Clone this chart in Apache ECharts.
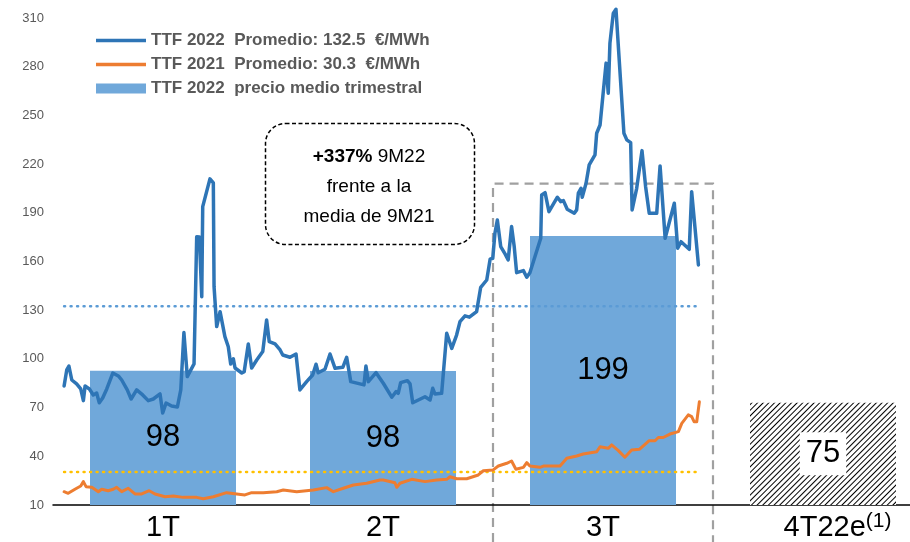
<!DOCTYPE html>
<html>
	<head>
		<meta charset="utf-8">
		<title></title>
		<script src="https://cdn.jsdelivr.net/npm/echarts@6/dist/echarts.min.js"></script>
	</head>
	<body style="margin:0">
		<div id="main" style="width: 910px; height: 542px;"></div>
		<script type="text/javascript">
			// 数据
			var quarters = ['1T', '2T', '3T', '4T22e'];
			var barValues = [92.7, 92.6, 175.7, '-'];
			var barLabels = ['98', '98', '199', ''];
			var estValues = ['-', '-', '-', 73];
			var estLabels = ['', '', '', '75'];
			var avg2022 = 132.5;
			var avg2021 = 30.3;
			var yTicks = { min: 10, max: 310, interval: 30 };

			// TTF 2022, [dia, €/MWh]
			var ttf2022 = [
				[4.6, 83.3], [5.7, 93.2], [6.6, 95.6], [7.8, 87.0], [9.8, 84.6], [11.5, 81.5], [12.6, 74.3], [13.3, 83.3],
				[15.1, 81.5], [16.7, 77.8], [18.1, 79.0], [19.2, 73.0], [20.6, 75.9], [22.3, 81.5], [24.8, 91.3], [27.1, 89.5],
				[28.5, 87.0], [30.8, 80.9], [32.4, 75.3], [34.7, 80.9], [37.2, 77.8], [39.5, 74.3], [41.6, 75.3], [44.4, 78.4],
				[45.5, 66.7], [46.9, 72.8], [49.2, 71.0], [51.6, 70.4], [53.0, 80.9], [54.3, 116.2], [55.7, 89.1], [58.5, 96.9],
				[59.6, 175.3], [60.7, 175.1], [61.7, 138.3], [62.1, 193.8], [65.1, 210.9], [66.5, 208.4], [66.8, 144.5], [67.9, 119.9],
				[69.3, 129.1], [71.3, 113.7], [72.7, 107.5], [73.7, 96.9], [74.8, 100.0], [75.5, 94.4], [78.3, 91.3], [79.3, 92.1],
				[81.0, 109.2], [82.4, 94.4], [84.5, 99.3], [87.0, 104.5], [88.6, 124.0], [89.7, 110.6], [92.1, 109.2], [94.2, 105.5],
				[95.3, 102.4], [98.3, 101.0], [100.8, 103.0], [102.4, 80.9], [105.2, 86.0], [107.7, 90.1], [109.1, 96.7], [110.0, 91.5],
				[112.8, 93.6], [114.9, 103.0], [117.0, 94.2], [120.2, 94.8], [121.8, 101.0], [123.5, 86.0], [127.3, 84.6], [129.0, 84.0],
				[129.8, 95.6], [130.8, 86.0], [134.0, 91.5], [137.0, 85.0], [140.5, 76.4], [142.3, 79.8], [143.2, 78.8], [144.2, 85.4],
				[147.0, 86.6], [148.1, 84.6], [149.2, 73.0], [154.3, 76.7], [156.4, 74.7], [157.5, 81.9], [158.4, 78.4], [161.2, 78.8],
				[163.3, 115.8], [165.4, 106.5], [167.4, 114.7], [168.8, 122.9], [170.9, 126.5], [172.7, 125.7], [175.7, 129.1], [177.4, 144.1],
				[179.9, 148.6], [181.3, 161.4], [182.4, 162.0], [183.3, 177.4], [184.3, 185.6], [185.7, 169.2], [187.5, 164.7], [188.8, 161.0],
				[190.2, 181.5], [191.3, 169.2], [192.3, 153.1], [195.1, 154.4], [196.5, 150.3], [197.8, 153.1], [202.3, 174.3], [202.7, 201.0],
				[204.1, 202.4], [205.7, 190.7], [209.2, 199.6], [210.6, 196.9], [211.7, 197.5], [213.3, 192.2], [216.2, 189.7], [217.2, 191.8],
				[217.9, 202.1], [219.0, 205.1], [219.5, 199.6], [221.1, 208.2], [222.4, 219.5], [224.8, 225.7], [225.5, 239.0], [226.9, 244.1],
				[229.4, 282.2], [230.3, 263.7], [231.0, 294.5], [232.4, 313.0], [233.5, 315.4], [236.8, 239.0], [238.0, 234.9], [239.6, 233.2],
				[240.2, 191.8], [242.1, 205.1], [244.3, 228.3], [245.8, 206.1], [247.3, 189.7], [250.4, 189.7], [251.8, 218.9], [253.9, 174.3],
				[257.7, 195.9], [259.1, 168.2], [260.5, 172.2], [263.9, 167.5], [264.9, 203.0], [267.7, 157.9]
			];

			// TTF 2021, [dia, €/MWh]
			var ttf2021 = [
				[4.6, 18.2], [6.3, 17.2], [9.1, 19.7], [11.5, 21.7], [12.6, 24.4], [13.7, 21.3], [16.1, 20.9], [18.8, 18.2],
				[20.2, 19.7], [22.9, 18.8], [25.0, 19.7], [26.4, 20.9], [28.5, 18.2], [31.2, 20.3], [34.0, 16.8], [36.8, 16.8],
				[39.9, 18.8], [42.3, 16.8], [46.5, 15.1], [49.9, 15.5], [54.0, 14.7], [59.6, 14.7], [62.3, 13.9], [66.5, 15.1],
				[72.0, 17.6], [76.2, 16.8], [79.6, 16.2], [82.4, 17.6], [87.2, 17.6], [92.8, 18.2], [95.5, 19.2], [101.1, 18.2],
				[108.0, 19.2], [113.5, 20.7], [116.3, 18.2], [120.4, 20.3], [124.6, 22.3], [130.1, 23.4], [135.6, 25.4], [137.0, 25.4],
				[141.8, 23.7], [142.6, 20.9], [143.9, 23.4], [148.8, 25.8], [154.3, 24.4], [159.1, 25.4], [163.3, 25.8], [164.7, 27.4],
				[167.4, 26.2], [171.6, 26.2], [176.4, 28.5], [178.5, 31.1], [182.6, 31.6], [184.7, 34.0], [188.2, 35.7], [190.2, 37.1],
				[192.0, 32.0], [195.1, 33.2], [196.5, 36.1], [197.8, 34.0], [202.0, 33.2], [203.4, 34.0], [210.3, 34.0], [213.1, 38.8],
				[217.2, 40.2], [219.9, 41.4], [225.5, 42.8], [226.9, 45.9], [230.3, 44.9], [231.7, 47.0], [234.5, 43.5], [237.2, 39.4],
				[240.0, 43.9], [243.2, 44.3], [247.3, 49.6], [249.7, 49.6], [251.1, 51.6], [253.1, 51.6], [255.9, 53.7], [259.4, 55.2],
				[260.8, 60.3], [263.5, 65.5], [264.9, 64.4], [265.9, 61.3], [267.0, 61.3], [268.1, 73.6]
			];

			var name22 = 'TTF 2022  Promedio: 132.5  €/MWh';
			var name21 = 'TTF 2021  Promedio: 30.3  €/MWh';
			var nameBar = 'TTF 2022  precio medio trimestral';

			var firstDay = ttf2022[0][0];
			var lastDay = ttf2022[ttf2022.length - 1][0];

			var lineIcon = 'path://M0,0 L50,0 L50,3.5 L0,3.5 Z';

			var myCharts = echarts.init(document.getElementById('main'));

			option = {
				animation: false,
				textStyle: { fontFamily: 'Liberation Sans' },
				grid: { left: 53, top: 18, width: 880, height: 487, outerBoundsMode: 'none', containLabel: false },
				legend: {
					data: [
						{ name: name22, icon: lineIcon },
						{ name: name21, icon: lineIcon },
						{ name: nameBar, icon: 'rect' }
					],
					orient: 'vertical',
					left: 91,
					top: 27,
					itemWidth: 50,
					itemHeight: 10,
					itemGap: 7,
					textStyle: { fontSize: 17, fontWeight: 'bold', color: '#595959' }
				},
				xAxis: [
					{
						type: 'category',
						data: quarters,
						axisTick: { show: false },
						axisLine: { lineStyle: { color: '#000', width: 1.5 } },
						axisLabel: {
							margin: 6,
							formatter: function (v) {
								if (v === '4T22e') return '{sp| }{a|4T22e}{s|(1)}';
								return '{a|' + v + '}';
							},
							rich: {
								a: { fontSize: 29, color: '#000', lineHeight: 34 },
								s: { fontSize: 21, color: '#000', verticalAlign: 'top', lineHeight: 34 },
								sp: { width: 29 }
							}
						}
					},
					{ type: 'value', min: 0, max: 365, show: false }
				],
				yAxis: {
					type: 'value',
					min: yTicks.min,
					max: yTicks.max,
					interval: yTicks.interval,
					axisLine: { show: false },
					axisTick: { show: false },
					splitLine: { show: false },
					axisLabel: { fontSize: 13, color: '#595959', margin: 9 }
				},
				series: [
					{
						name: nameBar,
						type: 'bar',
						xAxisIndex: 0,
						data: barValues,
						barWidth: 146,
						barGap: '-100%',
						itemStyle: { color: '#70a8da' },
						label: {
							show: true,
							position: 'inside',
							fontSize: 31,
							color: '#000',
							formatter: function (p) { return barLabels[p.dataIndex]; }
						},
						z: 1
					},
					{
						name: 'est',
						type: 'bar',
						xAxisIndex: 0,
						data: estValues,
						barWidth: 146,
						itemStyle: {
							color: '#fff',
							decal: {
								symbol: 'rect',
								color: '#000',
								backgroundColor: '#fff',
								dashArrayX: [1, 0],
								dashArrayY: [1, 3],
								rotation: -Math.PI / 4
							}
						},
						label: {
							show: true,
							position: 'inside',
							fontSize: 31,
							color: '#000',
							backgroundColor: '#fff',
							padding: [7, 6, 5, 6],
							formatter: function (p) { return estLabels[p.dataIndex]; }
						},
						z: 1
					},
					{
						name: 'avg22',
						type: 'line',
						xAxisIndex: 1,
						data: [[firstDay, avg2022], [lastDay, avg2022]],
						symbol: 'none',
						lineStyle: { color: '#5b9bd5', width: 2.5, type: [1, 5.5], cap: 'round' },
						z: 2
					},
					{
						name: 'avg21',
						type: 'line',
						xAxisIndex: 1,
						data: [[firstDay, avg2021], [lastDay, avg2021]],
						symbol: 'none',
						lineStyle: { color: '#ffc000', width: 2.5, type: [1, 5.5], cap: 'round' },
						z: 2
					},
					{
						name: name21,
						type: 'line',
						xAxisIndex: 1,
						data: ttf2021,
						symbol: 'none',
						clip: false,
						itemStyle: { color: '#ed7d31' },
						lineStyle: { color: '#ed7d31', width: 3, cap: 'round', join: 'round' },
						z: 3
					},
					{
						name: name22,
						type: 'line',
						xAxisIndex: 1,
						data: ttf2022,
						symbol: 'none',
						clip: false,
						itemStyle: { color: '#2e75b6' },
						lineStyle: { color: '#2e75b6', width: 3.5, cap: 'round', join: 'round' },
						z: 4
					}
				]
			};
			myCharts.setOption(option);

			// 3T 虚线框
			var pTop = myCharts.convertToPixel({ xAxisIndex: 1, yAxisIndex: 0 }, [182.5, 208]);
			var pRight = myCharts.convertToPixel({ xAxisIndex: 1, yAxisIndex: 0 }, [273.75, 208]);
			myCharts.setOption({
				graphic: [
					{
						type: 'polyline',
						shape: { points: [[pTop[0], 542], [pTop[0], pTop[1]], [pRight[0], pRight[1]], [pRight[0], 542]] },
						style: { stroke: '#a0a0a0', lineWidth: 2.2, lineDash: [9, 6], fill: null },
						z: 0
					},
					{
						type: 'rect',
						shape: { x: 265.5, y: 123.5, width: 209, height: 121, r: 20 },
						style: { fill: '#fff', stroke: '#000', lineWidth: 1.5, lineDash: [4, 2.5] },
						z: 10
					},
					{
						type: 'text',
						x: 369,
						y: 187,
						style: {
							text: '{b|+337%} 9M22\nfrente a la\nmedia de 9M21',
							align: 'center',
							verticalAlign: 'middle',
							fontSize: 19,
							fontFamily: 'Liberation Sans',
							lineHeight: 30,
							fill: '#000',
							rich: { b: { fontWeight: 'bold', fontSize: 19, fontFamily: 'Liberation Sans' } }
						},
						z: 11
					}
				]
			});
		</script>
	</body>
</html>
